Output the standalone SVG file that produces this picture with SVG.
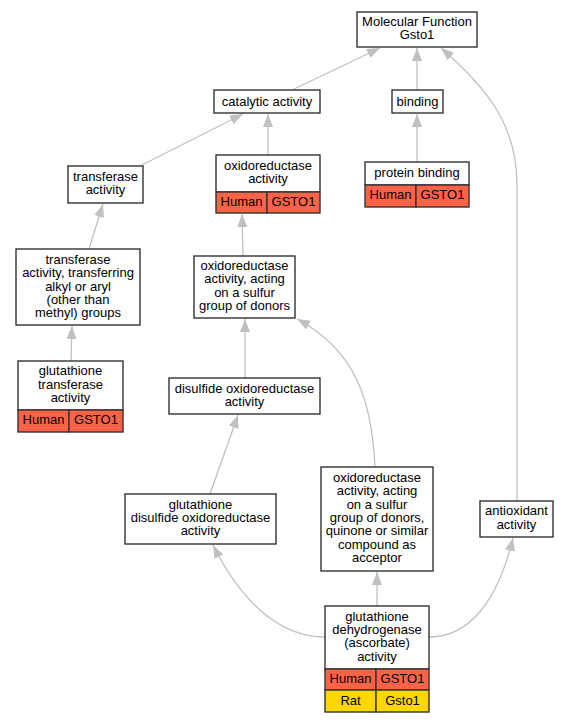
<svg xmlns="http://www.w3.org/2000/svg" width="568" height="723" viewBox="0 0 568 723">
<defs>
<marker id="arr" markerUnits="userSpaceOnUse" markerWidth="14" markerHeight="11" refX="13" refY="5" orient="auto">
<path d="M0,0 L13,5 L0,10 z" fill="#c0c0c0"/>
</marker>
<style>
text{font-family:"Liberation Sans",Arial,sans-serif;font-size:13px;fill:#000;text-anchor:middle}
.n{fill:#fff;stroke:#333;stroke-width:1.4}
.h{fill:#ff6347;stroke:#333;stroke-width:1.4}
.r{fill:#ffd700;stroke:#333;stroke-width:1.4}
.e{fill:none;stroke:#c0c0c0;stroke-width:1.3;marker-end:url(#arr)}
</style>
</defs>
<rect width="568" height="723" fill="#fff"/>
<g id="edges">
<path class="e" d="M292,90 L380,48"/>
<path class="e" d="M417,90 L417,48"/>
<path class="e" d="M517,501 L517,185 C517,125 487,88 441,48"/>
<path class="e" d="M140,166 L243,114"/>
<path class="e" d="M268,155 L268,114"/>
<path class="e" d="M417,162 L417,114"/>
<path class="e" d="M89,249 L103,204"/>
<path class="e" d="M71,361 L72,326"/>
<path class="e" d="M243,256 L242,214"/>
<path class="e" d="M245,378 L245,319"/>
<path class="e" d="M210,494 L238,415"/>
<path class="e" d="M375,467 C372,400 355,350 297,319"/>
<path class="e" d="M325,637 C275,637 238,595 213,545"/>
<path class="e" d="M377,606 L377,572"/>
<path class="e" d="M429,637 C470,637 498,600 513,538"/>
</g>
<g id="n_mf">
<rect class="n" x="357" y="12" width="120" height="35"/>
<text x="417" y="26">Molecular Function</text>
<text x="417" y="39">Gsto1</text>
</g>
<g id="n_catalytic">
<rect class="n" x="214" y="90" width="106" height="23"/>
<text x="267" y="106">catalytic activity</text>
</g>
<g id="n_binding">
<rect class="n" x="392" y="90" width="51" height="23"/>
<text x="417.5" y="106">binding</text>
</g>
<g id="n_oxido">
<rect class="n" x="216" y="155" width="104" height="37"/>
<text x="268" y="170">oxidoreductase</text>
<text x="268" y="183">activity</text>
<rect class="h" x="216" y="192" width="51" height="21"/>
<rect class="h" x="267" y="192" width="53" height="21"/>
<text x="241.5" y="206">Human</text>
<text x="293.5" y="206">GSTO1</text>
</g>
<g id="n_protein">
<rect class="n" x="365" y="162" width="104" height="23"/>
<text x="417" y="177">protein binding</text>
<rect class="h" x="365" y="185" width="51" height="22"/>
<rect class="h" x="416" y="185" width="53" height="22"/>
<text x="390.5" y="199">Human</text>
<text x="442.5" y="199">GSTO1</text>
</g>
<g id="n_transferase">
<rect class="n" x="68" y="166" width="75" height="37"/>
<text x="105.5" y="181">transferase</text>
<text x="105.5" y="194">activity</text>
</g>
<g id="n_transferring">
<rect class="n" x="16" y="249" width="124" height="76"/>
<text x="78" y="263.5">transferase</text>
<text x="78" y="277">activity, transferring</text>
<text x="78" y="290.5">alkyl or aryl</text>
<text x="78" y="303.5">(other than</text>
<text x="78" y="317">methyl) groups</text>
</g>
<g id="n_gst">
<rect class="n" x="18" y="361" width="105" height="49"/>
<text x="70.5" y="375">glutathione</text>
<text x="70.5" y="389">transferase</text>
<text x="70.5" y="402">activity</text>
<rect class="h" x="18" y="410" width="51" height="22"/>
<rect class="h" x="69" y="410" width="54" height="22"/>
<text x="43.5" y="424">Human</text>
<text x="96" y="424">GSTO1</text>
</g>
<g id="n_sulfur">
<rect class="n" x="194" y="256" width="101" height="62"/>
<text x="244.5" y="270">oxidoreductase</text>
<text x="244.5" y="283">activity, acting</text>
<text x="244.5" y="296.5">on a sulfur</text>
<text x="244.5" y="310">group of donors</text>
</g>
<g id="n_disulfide">
<rect class="n" x="169" y="378" width="151" height="36"/>
<text x="244.5" y="393">disulfide oxidoreductase</text>
<text x="244.5" y="406">activity</text>
</g>
<g id="n_gdo">
<rect class="n" x="125" y="494" width="151" height="50"/>
<text x="200.5" y="509">glutathione</text>
<text x="200.5" y="522">disulfide oxidoreductase</text>
<text x="200.5" y="535">activity</text>
</g>
<g id="n_acceptor">
<rect class="n" x="321" y="467" width="112" height="104"/>
<text x="377" y="482">oxidoreductase</text>
<text x="377" y="495">activity, acting</text>
<text x="377" y="509">on a sulfur</text>
<text x="377" y="522">group of donors,</text>
<text x="377" y="535">quinone or similar</text>
<text x="377" y="549">compound as</text>
<text x="377" y="562">acceptor</text>
</g>
<g id="n_antioxidant">
<rect class="n" x="480" y="501" width="73" height="36"/>
<text x="516.5" y="515">antioxidant</text>
<text x="516.5" y="529">activity</text>
</g>
<g id="n_gdh">
<rect class="n" x="325" y="606" width="104" height="63"/>
<text x="377" y="621">glutathione</text>
<text x="377" y="634">dehydrogenase</text>
<text x="377" y="647">(ascorbate)</text>
<text x="377" y="661">activity</text>
<rect class="h" x="325" y="669" width="51" height="21"/>
<rect class="h" x="376" y="669" width="53" height="21"/>
<text x="350.5" y="683">Human</text>
<text x="402.5" y="683">GSTO1</text>
<rect class="r" x="325" y="690" width="51" height="22"/>
<rect class="r" x="376" y="690" width="53" height="22"/>
<text x="350.5" y="704.5">Rat</text>
<text x="402.5" y="704.5">Gsto1</text>
</g>
</svg>
